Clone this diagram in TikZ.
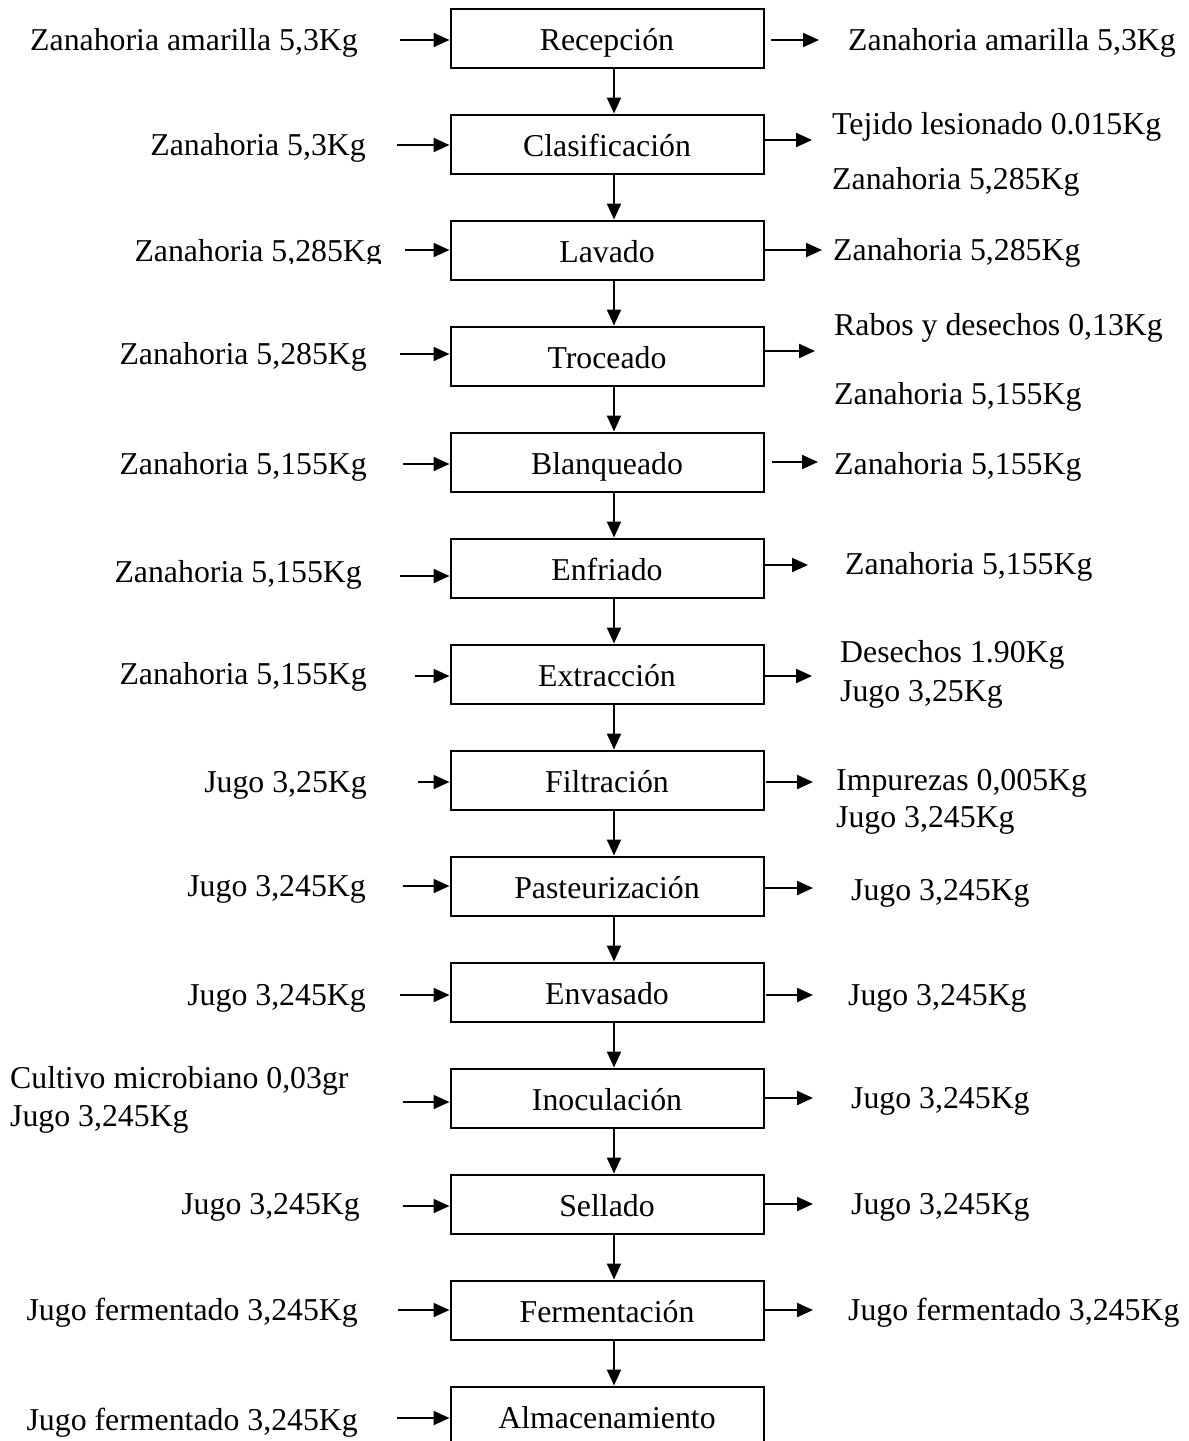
\documentclass[tikz,border=0pt]{standalone}
\usepackage{fontspec}
\setmainfont{Liberation Serif}
\usetikzlibrary{arrows.meta}
\begin{document}
\begin{tikzpicture}[x=1pt,y=-1pt,
  every node/.style={font=\fontsize{31.8}{38}\selectfont, inner sep=0pt},
  box/.style={draw, line width=2pt, minimum width=313pt, minimum height=59pt, text height=30pt, text depth=6pt},
  arr/.style={line width=2.2pt, -{Triangle[length=16pt,width=14pt]}},
  lt/.style={anchor=base east},
  rt/.style={anchor=base west}]
\useasboundingbox (0,0) rectangle (1189,1441);
% process boxes
\foreach \i/\t in {0/Recepción,1/Clasificación,2/Lavado,3/Troceado,4/Blanqueado,5/Enfriado,6/Extracción,7/Filtración,8/Pasteurización,9/Envasado,10/Inoculación,11/Sellado,12/Fermentación,13/Almacenamiento}
  \node[box] (b\i) at (607,{38+106*\i}) {\t};
% vertical flow arrows
\foreach \i [evaluate=\i as \j using int(\i+1)] in {0,...,12}
  \draw[arr] ([xshift=7pt]b\i.south) -- ([xshift=7pt]b\j.north);

% left inputs: text, arrow start
\node[lt] (l0t) at (358,50) {Zanahoria amarilla 5,3Kg};
\coordinate (l0) at (400,40);
\node[lt] (l1t) at (366,155) {Zanahoria 5,3Kg};
\coordinate (l1) at (397,145);
\begin{scope}
\clip (0,200) rectangle (440,263);
\node[lt] (l2t) at (382,261) {Zanahoria 5,285Kg};
\end{scope}
\coordinate (l2) at (405,250);
\node[lt] (l3t) at (367,364) {Zanahoria 5,285Kg};
\coordinate (l3) at (400,354);
\node[lt] (l4t) at (367,474) {Zanahoria 5,155Kg};
\coordinate (l4) at (403,464);
\node[lt] (l5t) at (362,582) {Zanahoria 5,155Kg};
\coordinate (l5) at (400,576);
\node[lt] (l6t) at (367,684) {Zanahoria 5,155Kg};
\coordinate (l6) at (415,676);
\node[lt] (l7t) at (367,792) {Jugo 3,25Kg};
\coordinate (l7) at (418,782);
\node[lt] (l8t) at (366,896) {Jugo 3,245Kg};
\coordinate (l8) at (403,886);
\node[lt] (l9t) at (366,1005) {Jugo 3,245Kg};
\coordinate (l9) at (400,995);
\node[rt] (l10a) at (10,1088) {Cultivo microbiano 0,03gr};
\node[rt] (l10b) at (10,1126) {Jugo 3,245Kg};
\coordinate (l10) at (403,1102);
\node[lt] (l11t) at (360,1214) {Jugo 3,245Kg};
\coordinate (l11) at (403,1206);
\node[lt] (l12t) at (358,1320) {Jugo fermentado 3,245Kg};
\coordinate (l12) at (398,1310);
\node[lt] (l13t) at (358,1430) {Jugo fermentado 3,245Kg};
\coordinate (l13) at (397,1418);
\foreach \i in {0,...,13}
  \draw[arr] (l\i) -- (b\i.west |- l\i);

% right outputs
\coordinate (r0s) at (771,40);  \coordinate (r0) at (819,40);
\coordinate (r1s) at (764,140); \coordinate (r1) at (812,140);
\coordinate (r2s) at (764,250); \coordinate (r2) at (822,250);
\coordinate (r3s) at (764,351); \coordinate (r3) at (815,351);
\coordinate (r4s) at (772,462); \coordinate (r4) at (818,462);
\coordinate (r5s) at (764,565); \coordinate (r5) at (808,565);
\coordinate (r6s) at (764,676); \coordinate (r6) at (812,676);
\coordinate (r7s) at (766,782); \coordinate (r7) at (813,782);
\coordinate (r8s) at (764,888); \coordinate (r8) at (813,888);
\coordinate (r9s) at (766,995); \coordinate (r9) at (813,995);
\coordinate (r10s) at (764,1098); \coordinate (r10) at (813,1098);
\coordinate (r11s) at (764,1204); \coordinate (r11) at (813,1204);
\coordinate (r12s) at (764,1310); \coordinate (r12) at (813,1310);
\foreach \i in {0,...,12}
  \draw[arr] (r\i s) -- (r\i);

\node[rt] (r0t) at (848,50) {Zanahoria amarilla 5,3Kg};
\node[rt] (r1a) at (832,134) {Tejido lesionado 0.015Kg};
\node[rt] (r1b) at (832,189) {Zanahoria 5,285Kg};
\node[rt] (r2t) at (833,260) {Zanahoria 5,285Kg};
\node[rt] (r3a) at (834,335) {Rabos y desechos 0,13Kg};
\node[rt] (r3b) at (834,404) {Zanahoria 5,155Kg};
\node[rt] (r4t) at (834,474) {Zanahoria 5,155Kg};
\node[rt] (r5t) at (845,574) {Zanahoria 5,155Kg};
\node[rt] (r6a) at (840,662) {Desechos 1.90Kg};
\node[rt] (r6b) at (840,701) {Jugo 3,25Kg};
\node[rt] (r7a) at (836,790) {Impurezas 0,005Kg};
\node[rt] (r7b) at (836,827) {Jugo 3,245Kg};
\node[rt] (r8t) at (851,900) {Jugo 3,245Kg};
\node[rt] (r9t) at (848,1005) {Jugo 3,245Kg};
\node[rt] (r10t) at (851,1108) {Jugo 3,245Kg};
\node[rt] (r11t) at (851,1214) {Jugo 3,245Kg};
\node[rt] (r12t) at (848,1320) {Jugo fermentado 3,245Kg};
\end{tikzpicture}
\end{document}
